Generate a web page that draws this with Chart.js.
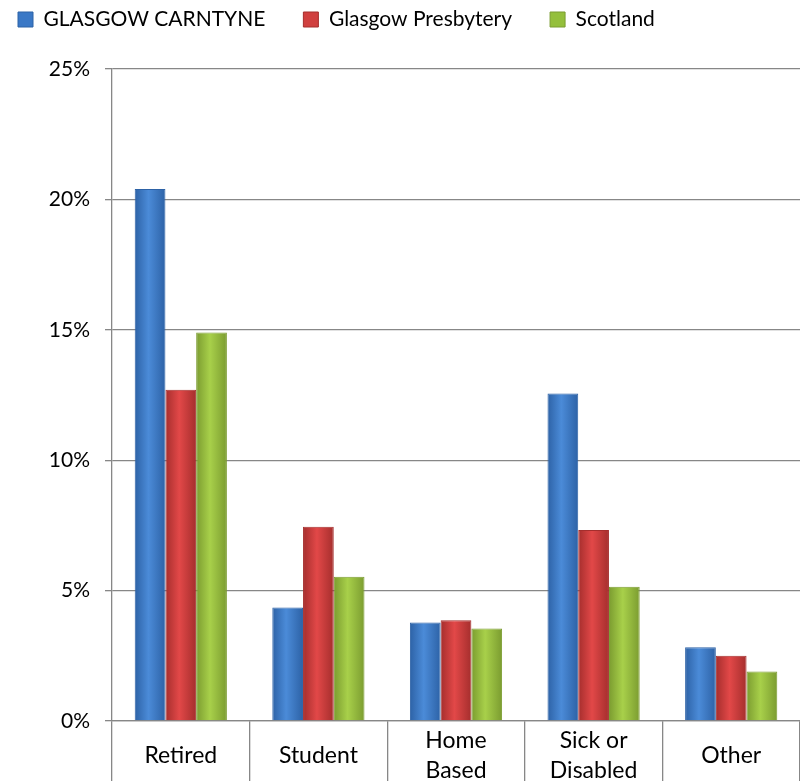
<!DOCTYPE html>
<html>
<head>
<meta charset="utf-8">
<script src="https://cdn.jsdelivr.net/npm/chart.js@4"></script>
<style>
  html, body { margin: 0; padding: 0; background: #fff; overflow: hidden; }
  #wrap { width: 800px; height: 781px; }
</style>
</head>
<body>
<div id="wrap"><canvas id="chart"></canvas></div>
<script>
const categories = ['Retired', 'Student', ['Home', 'Based'], ['Sick or', 'Disabled'], 'Other'];
const seriesNames = ['GLASGOW CARNTYNE', 'Glasgow Presbytery', 'Scotland'];
const carntyne = [20.4, 4.35, 3.78, 12.56, 2.83];
const presbytery = [12.7, 7.45, 3.86, 7.32, 2.5];
const scotland = [14.9, 5.53, 3.55, 5.15, 1.9];
const yTicks = [0, 5, 10, 15, 20, 25];

// edge / centre colours for the bevelled bars
const palette = [
    { edge: '#2d62a6', mid: '#4b8bd8', solid: '#3a78c6' },
    { edge: '#a52e2d', mid: '#e24848', solid: '#d0403f' },
    { edge: '#7b9c30', mid: '#a8d04a', solid: '#94bf3c' }
];

const FONT = 'Lato';
const barPct = 0.67;

const bevelFill = (i) => (c) => {
    const chart = c.chart;
    const x = chart.scales && chart.scales.x;
    if (!chart.chartArea || !x || c.dataIndex === undefined) return palette[i].solid;
    const catW = x.width / categories.length;
    const w = catW * barPct / 3;
    const cx = x.getPixelForValue(c.dataIndex) + (i - 1) * w;
    const g = chart.ctx.createLinearGradient(cx - w / 2, 0, cx + w / 2, 0);
    g.addColorStop(0, palette[i].edge);
    g.addColorStop(0.45, palette[i].mid);
    g.addColorStop(1, palette[i].edge);
    return g;
};

const ds = [carntyne, presbytery, scotland].map((vals, i) => ({
    label: seriesNames[i],
    data: vals,
    backgroundColor: bevelFill(i),
    borderColor: palette[i].edge,
    borderWidth: 1,
    categoryPercentage: barPct,
    barPercentage: 1
}));

// the legend's padding is both the gap between items and the gap above them,
// so lift it back up after layout
const liftLegend = {
    id: 'liftLegend',
    afterLayout(ch) {
        ch.legend.top -= 29;
        ch.legend.bottom -= 29;
    }
};

const chart = new Chart(document.getElementById('chart').getContext('2d'), {
    type: 'bar',
    data: { labels: categories, datasets: ds },
    plugins: [liftLegend],
    options: {
        responsive: true,
        maintainAspectRatio: false,
        animation: false,
        layout: { padding: { left: -20, right: -3, top: 0, bottom: 0 } },
        plugins: {
            tooltip: { enabled: false },
            legend: {
                position: 'top',
                align: 'start',
                labels: {
                    color: '#000',
                    font: { family: FONT, size: 21 },
                    boxWidth: 15,
                    boxHeight: 15,
                    padding: 38,
                    generateLabels: (ch) => ch.data.datasets.map((d, i) => ({
                        text: d.label,
                        fillStyle: palette[i].solid,
                        strokeStyle: palette[i].edge,
                        lineWidth: 1,
                        datasetIndex: i
                    }))
                }
            }
        },
        scales: {
            x: {
                grid: {
                    offset: true,
                    drawOnChartArea: false,
                    tickLength: 60,
                    color: '#878787',
                    lineWidth: 1.3
                },
                border: { color: '#878787', width: 1.3 },
                ticks: {
                    color: '#000',
                    font: { family: FONT, size: 23, lineHeight: 30 / 23 },
                    padding: -40,
                    crossAlign: 'center',
                    maxRotation: 0,
                    autoSkip: false
                },
                afterFit: (s) => { s.height = 60; }
            },
            y: {
                min: yTicks[0],
                max: yTicks[yTicks.length - 1],
                afterBuildTicks: (s) => { s.ticks = yTicks.map(v => ({ value: v })); },
                grid: { color: '#878787', lineWidth: 1.3, tickLength: 7 },
                border: { color: '#878787', width: 1.3 },
                ticks: {
                    color: '#000',
                    font: { family: FONT, size: 21 },
                    padding: 15,
                    callback: (v) => v + '%'
                },
                afterFit: (s) => { s.width = 132; }
            }
        }
    }
});
</script>
</body>
</html>
